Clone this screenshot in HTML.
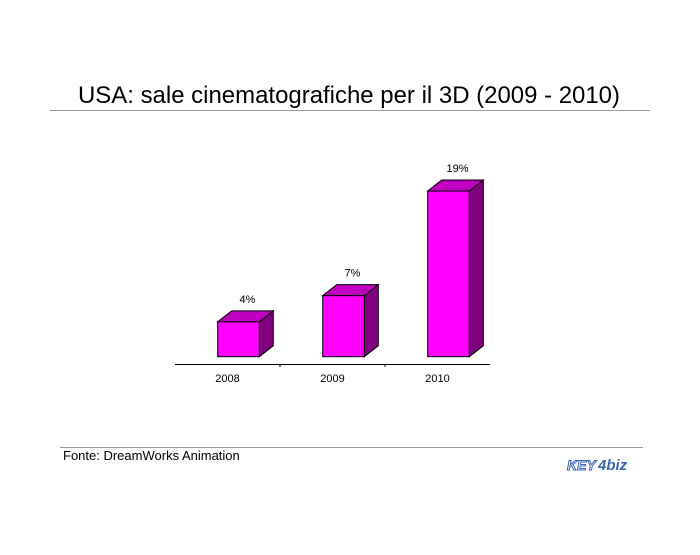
<!DOCTYPE html>
<html><head><meta charset="utf-8"><style>
body{margin:0;background:#fff;width:700px;height:550px;overflow:hidden;font-family:"Liberation Sans",Arial,sans-serif}
</style></head><body>
<svg width="700" height="550" xmlns="http://www.w3.org/2000/svg">
<text x="349" y="103" text-anchor="middle" font-size="24" textLength="542" lengthAdjust="spacingAndGlyphs">USA: sale cinematografiche per il 3D (2009 - 2010)</text>
<line x1="50" y1="110.5" x2="650" y2="110.5" stroke="#999" stroke-width="1"/>
<g id="plot"></g>
<line x1="60" y1="447.5" x2="643" y2="447.5" stroke="#999" stroke-width="1"/>
<text x="63" y="460" font-size="13">Fonte: DreamWorks Animation</text>
<g>
<text x="567" y="470" font-size="14" font-weight="bold" fill="#fff" stroke="#3a63b0" stroke-width="1" font-style="italic">KEY</text>
<text x="598" y="470" font-size="15" font-weight="bold" fill="#3a63b0" font-style="italic">4biz</text>
</g>
</svg>
<script>
const categories=["2008","2009","2010"];
const values=[4,7,19];
const valueLabels=["4%","7%","19%"];
const NS="http://www.w3.org/2000/svg";
const g=document.getElementById('plot');
const baseY=356.7,pxPer=8.72,x0=175,band=105,barOff=42.7,barW=41.6,dx=14,dy=11;
const yS=v=>baseY-v*pxPer;
function mk(t,a){const e=document.createElementNS(NS,t);for(const k in a)e.setAttribute(k,a[k]);g.appendChild(e);return e;}
let ax=mk('line',{x1:x0,y1:364.5,x2:x0+band*3,y2:364.5,stroke:'#000','stroke-width':1});


for(let i=1;i<categories.length;i++){
 let t=mk('line',{x1:x0+band*i,y1:364.5,x2:x0+band*i,y2:367,stroke:'#000'});
 
 
}
categories.forEach((c,i)=>{
 const L=x0+band*i+barOff,R=L+barW,T=yS(values[i]);
 const grp=document.createElementNS(NS,'g');g.appendChild(grp);
 
 
 const add=(t,a)=>{const e=document.createElementNS(NS,t);for(const k in a)e.setAttribute(k,a[k]);grp.appendChild(e);return e;};
 add('polygon',{points:`${R},${T} ${R+dx},${T-dy} ${R+dx},${baseY-dy} ${R},${baseY}`,fill:'#800080',stroke:'#000','stroke-width':1});
 add('polygon',{points:`${L},${T} ${L+dx},${T-dy} ${R+dx},${T-dy} ${R},${T}`,fill:'#c000c0',stroke:'#000','stroke-width':1});
 add('rect',{x:L,y:T,width:barW,height:baseY-T,fill:'#ff00ff',stroke:'#000','stroke-width':1});
 let vl=mk('text',{x:(L+R)/2+dx/2+2,y:T-dy-8,'text-anchor':'middle','font-size':11});
 vl.textContent=valueLabels[i];
 
 
 let cl=mk('text',{x:x0+band*i+band/2,y:382,'text-anchor':'middle','font-size':11});
 cl.textContent=c;
 
 
});
</script>
</body></html>
